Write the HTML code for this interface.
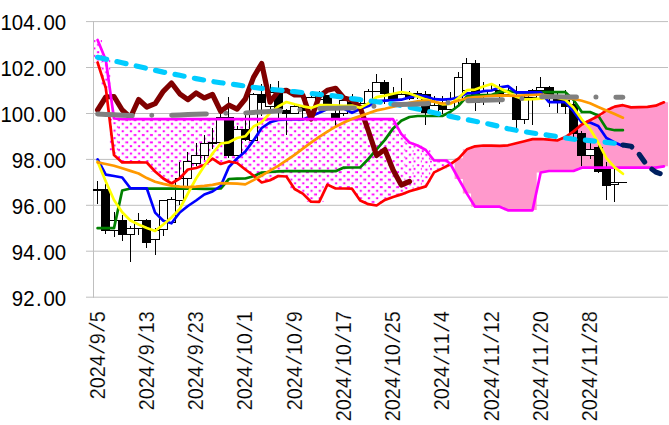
<!DOCTYPE html><html><head><meta charset="utf-8"><title>chart</title><style>html,body{margin:0;padding:0;background:#fff}svg text{font-family:"Liberation Sans",Arial,sans-serif;font-kerning:none}svg text.xl{stroke:#fff;stroke-width:0.2px;paint-order:fill stroke}</style></head><body><svg width="669" height="425" viewBox="0 0 669 425" style="display:block">
<defs>
<pattern id="dots" patternUnits="userSpaceOnUse" x="-0.35" y="0" width="8.2071" height="7.44"><rect width="9" height="8" fill="#fff"/><rect x="2.6" y="0.15" width="2.9" height="1.9" fill="#ff00ff"/><rect x="-1.1" y="3.87" width="2.2" height="1.9" fill="#ff00ff"/><rect x="7.11" y="3.87" width="2.2" height="1.9" fill="#ff00ff"/></pattern>
</defs>
<rect width="669" height="425" fill="#fff"/>
<line x1="86" x2="668" y1="21.6" y2="21.6" stroke="#bfbfbf" stroke-width="1"/>
<line x1="86" x2="668" y1="67.5" y2="67.5" stroke="#bfbfbf" stroke-width="1"/>
<line x1="86" x2="668" y1="113.5" y2="113.5" stroke="#bfbfbf" stroke-width="1"/>
<line x1="86" x2="668" y1="159.4" y2="159.4" stroke="#bfbfbf" stroke-width="1"/>
<line x1="86" x2="668" y1="205.3" y2="205.3" stroke="#bfbfbf" stroke-width="1"/>
<line x1="86" x2="668" y1="251.2" y2="251.2" stroke="#bfbfbf" stroke-width="1"/>
<line x1="86" x2="668" y1="297.2" y2="297.2" stroke="#bfbfbf" stroke-width="1"/>
<line x1="93.5" x2="93.5" y1="21" y2="297.5" stroke="#bfbfbf" stroke-width="1"/>
<rect transform="translate(0,-79.09)" x="93.50" y="119.1" width="8.51" height="22.5" fill="url(#dots)"/>
<rect transform="translate(0,-59.02)" x="101.71" y="119.1" width="8.51" height="28.0" fill="url(#dots)"/>
<rect transform="translate(0,-0.60)" x="109.91" y="119.1" width="8.51" height="36.5" fill="url(#dots)"/>
<rect transform="translate(0,0.00)" x="118.12" y="119.1" width="8.51" height="43.3" fill="url(#dots)"/>
<rect transform="translate(0,0.00)" x="126.33" y="119.1" width="8.51" height="43.3" fill="url(#dots)"/>
<rect transform="translate(0,0.00)" x="134.54" y="119.1" width="8.51" height="43.3" fill="url(#dots)"/>
<rect transform="translate(0,0.00)" x="142.74" y="119.1" width="8.51" height="43.4" fill="url(#dots)"/>
<rect transform="translate(0,0.00)" x="150.95" y="119.1" width="8.51" height="52.4" fill="url(#dots)"/>
<rect transform="translate(0,0.00)" x="159.16" y="119.1" width="8.51" height="59.4" fill="url(#dots)"/>
<rect transform="translate(0,0.00)" x="167.36" y="119.1" width="8.51" height="64.4" fill="url(#dots)"/>
<rect transform="translate(0,0.00)" x="175.57" y="119.1" width="8.51" height="59.4" fill="url(#dots)"/>
<rect transform="translate(0,0.00)" x="183.78" y="119.1" width="8.51" height="50.4" fill="url(#dots)"/>
<rect transform="translate(0,0.00)" x="191.99" y="119.1" width="8.51" height="48.9" fill="url(#dots)"/>
<rect transform="translate(0,0.00)" x="200.19" y="119.1" width="8.51" height="45.9" fill="url(#dots)"/>
<rect transform="translate(0,0.00)" x="208.40" y="119.1" width="8.51" height="39.6" fill="url(#dots)"/>
<rect transform="translate(0,0.00)" x="216.61" y="119.1" width="8.51" height="44.9" fill="url(#dots)"/>
<rect transform="translate(0,0.00)" x="224.81" y="119.1" width="8.51" height="42.4" fill="url(#dots)"/>
<rect transform="translate(0,0.00)" x="233.02" y="119.1" width="8.51" height="43.9" fill="url(#dots)"/>
<rect transform="translate(0,0.00)" x="241.23" y="119.1" width="8.51" height="50.4" fill="url(#dots)"/>
<rect transform="translate(0,0.00)" x="249.44" y="119.1" width="8.51" height="56.4" fill="url(#dots)"/>
<rect transform="translate(0,0.00)" x="257.64" y="119.1" width="8.51" height="63.4" fill="url(#dots)"/>
<rect transform="translate(0,0.00)" x="265.85" y="119.1" width="8.51" height="61.2" fill="url(#dots)"/>
<rect transform="translate(0,0.00)" x="274.06" y="119.1" width="8.51" height="56.9" fill="url(#dots)"/>
<rect transform="translate(0,0.00)" x="282.26" y="119.1" width="8.51" height="57.4" fill="url(#dots)"/>
<rect transform="translate(0,0.00)" x="290.47" y="119.1" width="8.51" height="69.9" fill="url(#dots)"/>
<rect transform="translate(0,0.00)" x="298.68" y="119.1" width="8.51" height="74.5" fill="url(#dots)"/>
<rect transform="translate(0,0.00)" x="306.89" y="119.1" width="8.51" height="82.6" fill="url(#dots)"/>
<rect transform="translate(0,0.00)" x="315.09" y="119.1" width="8.51" height="82.7" fill="url(#dots)"/>
<rect transform="translate(0,0.00)" x="323.30" y="119.1" width="8.51" height="65.5" fill="url(#dots)"/>
<rect transform="translate(0,0.00)" x="331.51" y="119.1" width="8.51" height="69.4" fill="url(#dots)"/>
<rect transform="translate(0,0.00)" x="339.71" y="119.1" width="8.51" height="69.4" fill="url(#dots)"/>
<rect transform="translate(0,0.00)" x="347.92" y="119.1" width="8.51" height="69.6" fill="url(#dots)"/>
<rect transform="translate(0,0.00)" x="356.13" y="119.1" width="8.51" height="81.5" fill="url(#dots)"/>
<rect transform="translate(0,0.00)" x="364.34" y="119.1" width="8.51" height="85.1" fill="url(#dots)"/>
<rect transform="translate(0,0.00)" x="372.54" y="119.1" width="8.51" height="86.4" fill="url(#dots)"/>
<rect transform="translate(0,0.00)" x="380.75" y="119.1" width="8.51" height="80.8" fill="url(#dots)"/>
<rect transform="translate(0,0.11)" x="388.96" y="119.1" width="8.51" height="77.7" fill="url(#dots)"/>
<rect transform="translate(0,14.87)" x="397.16" y="119.1" width="8.51" height="60.5" fill="url(#dots)"/>
<rect transform="translate(0,23.43)" x="405.37" y="119.1" width="8.51" height="48.7" fill="url(#dots)"/>
<rect transform="translate(0,26.45)" x="413.58" y="119.1" width="8.51" height="43.4" fill="url(#dots)"/>
<rect transform="translate(0,31.01)" x="421.79" y="119.1" width="8.51" height="36.3" fill="url(#dots)"/>
<rect transform="translate(0,41.40)" x="429.99" y="119.1" width="8.51" height="11.9" fill="url(#dots)"/>
<rect transform="translate(0,41.40)" x="438.20" y="119.1" width="8.51" height="7.9" fill="url(#dots)"/>
<polygon points="446.41,164.2 454.61,164.2 454.61,158.3 462.82,158.3 462.82,149.3 471.03,149.3 471.03,146.3 479.24,146.3 479.24,145.5 487.44,145.5 487.44,145.7 495.65,145.7 495.65,145.9 503.86,145.9 503.86,145.3 512.06,145.3 512.06,143.2 520.27,143.2 520.27,141.2 528.48,141.2 528.48,139.1 536.69,139.1 536.69,139.0 544.89,139.0 544.89,139.7 553.10,139.7 553.10,140.5 561.31,140.5 561.31,137.0 569.51,137.0 569.51,131.4 577.72,131.4 577.72,124.5 585.93,124.5 585.93,120.3 594.14,120.3 594.14,116.0 602.34,116.0 602.34,110.5 610.55,110.5 610.55,106.6 618.76,106.6 618.76,105.2 626.96,105.2 626.96,107.4 635.17,107.4 635.17,107.1 643.38,107.1 643.38,106.8 651.59,106.8 651.59,105.7 659.79,105.7 659.79,102.3 668.00,102.3 668.00,166.3 659.79,166.3 659.79,167.7 651.59,167.7 651.59,167.7 643.38,167.7 643.38,167.7 635.17,167.7 635.17,167.7 626.96,167.7 626.96,167.7 618.76,167.7 618.76,167.7 610.55,167.7 610.55,167.7 602.34,167.7 602.34,167.7 594.14,167.7 594.14,167.7 585.93,167.7 585.93,167.7 577.72,167.7 577.72,171.0 569.51,171.0 569.51,171.0 561.31,171.0 561.31,171.0 553.10,171.0 553.10,171.0 544.89,171.0 544.89,172.5 536.69,172.5 536.69,209.9 528.48,209.9 528.48,210.3 520.27,210.3 520.27,210.3 512.06,210.3 512.06,210.3 503.86,210.3 503.86,206.7 495.65,206.7 495.65,206.7 487.44,206.7 487.44,206.7 479.24,206.7 479.24,206.7 471.03,206.7 471.03,193.6 462.82,193.6 462.82,179.0 454.61,179.0 454.61,164.5 446.41,164.5" fill="#ff99cc"/>
<line x1="93.5" x2="93.5" y1="21" y2="297.5" stroke="#bfbfbf" stroke-width="1"/>
<g stroke="#000" stroke-width="1" shape-rendering="crispEdges">
<line x1="97.6" x2="97.6" y1="181.0" y2="203.8"/>
<line x1="105.8" x2="105.8" y1="184.0" y2="233.8"/>
<line x1="114.0" x2="114.0" y1="212.0" y2="236.8"/>
<line x1="122.2" x2="122.2" y1="215.0" y2="240.7"/>
<line x1="130.4" x2="130.4" y1="226.2" y2="261.7"/>
<line x1="138.6" x2="138.6" y1="213.2" y2="234.5"/>
<line x1="146.8" x2="146.8" y1="218.8" y2="247.8"/>
<line x1="155.1" x2="155.1" y1="228.0" y2="254.6"/>
<line x1="163.3" x2="163.3" y1="199.5" y2="235.7"/>
<line x1="171.5" x2="171.5" y1="197.0" y2="223.0"/>
<line x1="179.7" x2="179.7" y1="162.0" y2="205.4"/>
<line x1="187.9" x2="187.9" y1="152.3" y2="187.0"/>
<line x1="196.1" x2="196.1" y1="143.2" y2="166.0"/>
<line x1="204.3" x2="204.3" y1="135.3" y2="159.5"/>
<line x1="212.5" x2="212.5" y1="128.3" y2="148.7"/>
<line x1="220.7" x2="220.7" y1="114.3" y2="144.0"/>
<line x1="228.9" x2="228.9" y1="97.3" y2="158.2"/>
<line x1="237.1" x2="237.1" y1="125.9" y2="156.0"/>
<line x1="245.3" x2="245.3" y1="113.0" y2="141.0"/>
<line x1="253.5" x2="253.5" y1="92.9" y2="141.0"/>
<line x1="261.7" x2="261.7" y1="84.2" y2="116.0"/>
<line x1="270.0" x2="270.0" y1="84.2" y2="110.0"/>
<line x1="278.2" x2="278.2" y1="81.3" y2="117.7"/>
<line x1="286.4" x2="286.4" y1="108.8" y2="134.5"/>
<line x1="294.6" x2="294.6" y1="105.0" y2="114.0"/>
<line x1="302.8" x2="302.8" y1="105.0" y2="118.0"/>
<line x1="311.0" x2="311.0" y1="96.0" y2="113.0"/>
<line x1="319.2" x2="319.2" y1="90.5" y2="100.0"/>
<line x1="327.4" x2="327.4" y1="94.5" y2="105.0"/>
<line x1="335.6" x2="335.6" y1="110.0" y2="125.5"/>
<line x1="343.8" x2="343.8" y1="99.0" y2="116.0"/>
<line x1="352.0" x2="352.0" y1="94.1" y2="108.0"/>
<line x1="360.2" x2="360.2" y1="100.0" y2="110.0"/>
<line x1="368.4" x2="368.4" y1="89.0" y2="104.0"/>
<line x1="376.6" x2="376.6" y1="74.1" y2="92.0"/>
<line x1="384.9" x2="384.9" y1="80.3" y2="103.7"/>
<line x1="393.1" x2="393.1" y1="87.2" y2="101.0"/>
<line x1="401.3" x2="401.3" y1="78.3" y2="101.0"/>
<line x1="409.5" x2="409.5" y1="91.3" y2="100.0"/>
<line x1="417.7" x2="417.7" y1="91.2" y2="99.0"/>
<line x1="425.9" x2="425.9" y1="91.0" y2="124.6"/>
<line x1="434.1" x2="434.1" y1="96.3" y2="113.0"/>
<line x1="442.3" x2="442.3" y1="96.3" y2="113.9"/>
<line x1="450.5" x2="450.5" y1="92.3" y2="110.0"/>
<line x1="458.7" x2="458.7" y1="72.1" y2="107.0"/>
<line x1="466.9" x2="466.9" y1="58.1" y2="91.0"/>
<line x1="475.1" x2="475.1" y1="60.1" y2="110.7"/>
<line x1="483.3" x2="483.3" y1="81.9" y2="104.5"/>
<line x1="491.5" x2="491.5" y1="83.8" y2="96.0"/>
<line x1="499.8" x2="499.8" y1="84.0" y2="103.9"/>
<line x1="508.0" x2="508.0" y1="85.0" y2="96.0"/>
<line x1="516.2" x2="516.2" y1="86.0" y2="127.6"/>
<line x1="524.4" x2="524.4" y1="96.0" y2="123.8"/>
<line x1="532.6" x2="532.6" y1="89.0" y2="125.3"/>
<line x1="540.8" x2="540.8" y1="77.2" y2="91.0"/>
<line x1="549.0" x2="549.0" y1="86.0" y2="106.5"/>
<line x1="557.2" x2="557.2" y1="92.0" y2="113.0"/>
<line x1="565.4" x2="565.4" y1="90.0" y2="113.5"/>
<line x1="573.6" x2="573.6" y1="99.0" y2="137.0"/>
<line x1="581.8" x2="581.8" y1="131.0" y2="165.8"/>
<line x1="590.0" x2="590.0" y1="142.0" y2="158.8"/>
<line x1="598.2" x2="598.2" y1="145.0" y2="173.3"/>
<line x1="606.4" x2="606.4" y1="162.0" y2="199.6"/>
<line x1="614.7" x2="614.7" y1="169.0" y2="201.7"/>
<line x1="622.9" x2="622.9" y1="182.5" y2="182.5"/>
<rect x="93.50" y="189.6" width="8.21" height="1.00" fill="#fff"/>
<rect x="101.71" y="189.5" width="8.21" height="41.20" fill="#000"/>
<rect x="109.91" y="220.3" width="8.21" height="10.40" fill="#fff"/>
<rect x="118.12" y="220.3" width="8.21" height="14.50" fill="#000"/>
<rect x="126.33" y="228.8" width="8.21" height="6.00" fill="#fff"/>
<rect x="134.54" y="220.3" width="8.21" height="8.50" fill="#fff"/>
<rect x="142.74" y="220.3" width="8.21" height="22.40" fill="#000"/>
<rect x="150.95" y="230.0" width="8.21" height="9.50" fill="#fff"/>
<rect x="159.16" y="200.3" width="8.21" height="29.10" fill="#fff"/>
<rect x="167.36" y="199.5" width="8.21" height="23.40" fill="#fff"/>
<rect x="175.57" y="178.5" width="8.21" height="21.60" fill="#fff"/>
<rect x="183.78" y="161.6" width="8.21" height="16.80" fill="#fff"/>
<rect x="191.99" y="155.7" width="8.21" height="7.60" fill="#fff"/>
<rect x="200.19" y="143.4" width="8.21" height="11.70" fill="#fff"/>
<rect x="208.40" y="142.2" width="8.21" height="1.00" fill="#fff"/>
<rect x="216.61" y="117.5" width="8.21" height="25.25" fill="#fff"/>
<rect x="224.81" y="117.7" width="8.21" height="37.90" fill="#000"/>
<rect x="233.02" y="129.9" width="8.21" height="25.10" fill="#fff"/>
<rect x="241.23" y="129.8" width="8.21" height="10.10" fill="#000"/>
<rect x="249.44" y="94.3" width="8.21" height="45.90" fill="#fff"/>
<rect x="257.64" y="94.3" width="8.21" height="8.10" fill="#000"/>
<rect x="265.85" y="92.0" width="8.21" height="14.00" fill="#fff"/>
<rect x="274.06" y="92.0" width="8.21" height="16.50" fill="#000"/>
<rect x="282.26" y="110.2" width="8.21" height="3.20" fill="#000"/>
<rect x="290.47" y="106.8" width="8.21" height="6.60" fill="#fff"/>
<rect x="298.68" y="107.0" width="8.21" height="3.00" fill="#000"/>
<rect x="306.89" y="97.8" width="8.21" height="14.20" fill="#fff"/>
<rect x="315.09" y="96.5" width="8.21" height="2.50" fill="#fff"/>
<rect x="323.30" y="95.9" width="8.21" height="7.70" fill="#000"/>
<rect x="331.51" y="113.5" width="8.21" height="4.10" fill="#000"/>
<rect x="339.71" y="100.7" width="8.21" height="12.80" fill="#fff"/>
<rect x="347.92" y="102.0" width="8.21" height="3.50" fill="#000"/>
<rect x="356.13" y="103.7" width="8.21" height="1.80" fill="#fff"/>
<rect x="364.34" y="91.3" width="8.21" height="12.40" fill="#fff"/>
<rect x="372.54" y="82.6" width="8.21" height="8.60" fill="#fff"/>
<rect x="380.75" y="82.4" width="8.21" height="11.30" fill="#000"/>
<rect x="388.96" y="93.7" width="8.21" height="5.90" fill="#000"/>
<rect x="397.16" y="94.0" width="8.21" height="5.50" fill="#fff"/>
<rect x="405.37" y="94.0" width="8.21" height="4.00" fill="#000"/>
<rect x="413.58" y="93.5" width="8.21" height="1.00" fill="#000"/>
<rect x="421.79" y="94.1" width="8.21" height="17.90" fill="#000"/>
<rect x="429.99" y="105.2" width="8.21" height="6.80" fill="#fff"/>
<rect x="438.20" y="104.5" width="8.21" height="5.00" fill="#000"/>
<rect x="446.41" y="98.5" width="8.21" height="11.00" fill="#fff"/>
<rect x="454.61" y="77.5" width="8.21" height="21.50" fill="#fff"/>
<rect x="462.82" y="63.7" width="8.21" height="26.30" fill="#fff"/>
<rect x="471.03" y="63.7" width="8.21" height="38.50" fill="#000"/>
<rect x="479.24" y="91.5" width="8.21" height="3.60" fill="#fff"/>
<rect x="487.44" y="90.3" width="8.21" height="4.70" fill="#fff"/>
<rect x="495.65" y="90.3" width="8.21" height="4.70" fill="#000"/>
<rect x="503.86" y="94.5" width="8.21" height="1.00" fill="#fff"/>
<rect x="512.06" y="95.0" width="8.21" height="24.40" fill="#000"/>
<rect x="520.27" y="97.0" width="8.21" height="22.40" fill="#fff"/>
<rect x="528.48" y="90.2" width="8.21" height="6.80" fill="#fff"/>
<rect x="536.69" y="87.4" width="8.21" height="2.90" fill="#fff"/>
<rect x="544.89" y="87.4" width="8.21" height="10.60" fill="#000"/>
<rect x="553.10" y="98.0" width="8.21" height="2.40" fill="#000"/>
<rect x="561.31" y="100.7" width="8.21" height="5.70" fill="#000"/>
<rect x="569.51" y="104.0" width="8.21" height="29.90" fill="#000"/>
<rect x="577.72" y="133.2" width="8.21" height="22.00" fill="#000"/>
<rect x="585.93" y="149.4" width="8.21" height="6.10" fill="#fff"/>
<rect x="594.14" y="147.0" width="8.21" height="24.60" fill="#000"/>
<rect x="602.34" y="169.6" width="8.21" height="16.00" fill="#000"/>
<rect x="610.55" y="182.5" width="8.21" height="2.40" fill="#fff"/>
<rect x="618.76" y="182.5" width="8.21" height="0.01" fill="#fff"/>
</g>
<polyline points="97.6,228.2 105.8,228.2 114.0,228.1 122.2,190.5 130.4,188.5 138.6,188.5 146.8,188.6 155.1,188.6 163.3,188.6 171.5,188.7 179.7,188.7 187.9,188.7 196.1,188.7 204.3,188.8 212.5,188.8 220.7,188.5 228.9,179.0 237.1,178.7 245.3,178.5 253.5,176.3 261.7,172.6 270.0,172.0 278.2,171.4 286.4,171.2 294.6,171.2 302.8,171.2 311.0,171.2 319.2,171.2 327.4,171.2 335.6,171.2 343.8,167.6 352.0,167.5 360.2,167.4 368.4,159.0 376.6,149.4 384.9,139.9 393.1,128.4 401.3,120.7 409.5,117.0 417.7,116.0 425.9,116.0 434.1,116.0 442.3,116.0 450.5,111.8 458.7,105.5 466.9,96.3 475.1,95.4 483.3,95.2 491.5,95.1 499.8,91.7 508.0,91.2 516.2,92.3 524.4,92.3 532.6,92.3 540.8,92.2 549.0,92.2 557.2,92.2 565.4,92.2 573.6,99.9 581.8,112.0 590.0,112.0 598.2,115.6 606.4,128.5 614.7,130.2 622.9,130.2" fill="none" stroke="#008000" stroke-width="2.7" stroke-linejoin="round" stroke-linecap="round" />
<polyline points="97.6,159.5 105.8,174.7 114.0,176.0 122.2,177.5 130.4,188.3 138.6,188.3 146.8,188.4 155.1,212.6 163.3,220.8 171.5,223.3 179.7,212.5 187.9,206.0 196.1,200.5 204.3,194.5 212.5,191.5 220.7,186.0 228.9,167.0 237.1,158.5 245.3,151.5 253.5,140.4 261.7,128.0 270.0,122.3 278.2,120.0 286.4,119.5 294.6,119.5 302.8,119.5 311.0,116.3 319.2,112.7 327.4,109.0 335.6,108.5 343.8,108.5 352.0,112.8 360.2,109.0 368.4,106.1 376.6,101.4 384.9,100.7 393.1,100.2 401.3,99.7 409.5,97.4 417.7,95.3 425.9,96.4 434.1,99.2 442.3,99.6 450.5,99.2 458.7,97.2 466.9,93.4 475.1,93.0 483.3,91.2 491.5,90.5 499.8,87.3 508.0,86.2 516.2,92.3 524.4,92.3 532.6,92.3 540.8,92.3 549.0,102.1 557.2,102.1 565.4,102.0 573.6,111.4 581.8,122.5 590.0,122.5 598.2,125.9 606.4,138.0 614.7,142.4 622.9,146.0" fill="none" stroke="#0000ff" stroke-width="2.7" stroke-linejoin="round" stroke-linecap="round" />
<polyline points="97.6,110.0 105.8,97.0 114.0,96.5 122.2,110.0 130.4,117.5 138.6,99.5 146.8,107.0 155.1,103.7 163.3,91.3 171.5,83.0 179.7,93.8 187.9,99.6 196.1,93.0 204.3,98.0 212.5,94.5 220.7,111.4 228.9,105.2 237.1,109.1 245.3,99.0 253.5,77.3 261.7,63.5 270.0,102.2 278.2,91.2 286.4,90.3 294.6,95.0 302.8,95.0 311.0,119.0 319.2,96.5 327.4,90.2 335.6,88.3 343.8,98.0 352.0,100.0 360.2,107.5 368.4,131.0 376.6,155.5 384.9,149.5 393.1,170.0 401.3,185.0 409.5,181.5" fill="none" stroke="#800000" stroke-width="5.2" stroke-linejoin="round" stroke-linecap="round" />
<polyline points="97.6,62.5 105.8,88.1 114.0,155.0 122.2,162.4 130.4,162.4 138.6,162.4 146.8,162.5 155.1,171.5 163.3,178.5 171.5,183.5 179.7,178.5 187.9,169.5 196.1,168.0 204.3,165.0 212.5,158.7 220.7,164.0 228.9,161.5 237.1,163.0 245.3,169.5 253.5,175.5 261.7,182.5 270.0,180.3 278.2,176.0 286.4,176.5 294.6,189.0 302.8,193.6 311.0,201.7 319.2,201.8 327.4,184.6 335.6,188.5 343.8,188.5 352.0,188.7 360.2,200.6 368.4,204.2 376.6,205.5 384.9,199.9 393.1,197.0 401.3,194.4 409.5,191.3 417.7,188.9 425.9,186.4 434.1,172.4 442.3,168.4 450.5,164.2 458.7,158.3 466.9,149.3 475.1,146.3 483.3,145.5 491.5,145.7 499.8,145.9 508.0,145.3 516.2,143.2 524.4,141.2 532.6,139.1 540.8,139.0 549.0,139.7 557.2,140.5 565.4,137.0 573.6,131.4 581.8,124.5 590.0,120.3 598.2,116.0 606.4,110.5 614.7,106.6 622.9,105.2 631.1,107.4 639.3,107.1 647.5,106.8 655.7,105.7 663.9,102.3" fill="none" stroke="#ff0000" stroke-width="2.7" stroke-linejoin="round" stroke-linecap="round" />
<polyline points="97.6,40.0 105.8,60.0 114.0,118.5 122.2,119.1 393.0,119.1 401.2,133.9 409.4,142.5 417.6,145.5 425.8,150.0 434.1,160.5 446.6,160.5 450.9,164.9 458.7,179.0 466.9,193.6 475.1,206.7 499.7,206.7 507.9,210.3 532.5,210.3 540.7,172.5 548.9,171.0 573.5,171.0 581.7,167.7 655.7,167.7 663.9,166.3" fill="none" stroke="#ff00ff" stroke-width="2.7" stroke-linejoin="round" stroke-linecap="round" />
<polyline points="97.6,161.7 105.8,181.5 114.0,200.0 122.2,212.3 130.4,220.5 138.6,224.5 146.8,228.0 155.1,231.0 163.3,224.5 171.5,217.5 179.7,209.0 187.9,193.5 196.1,178.5 204.3,166.0 212.5,153.5 220.7,143.5 228.9,142.3 237.1,138.0 245.3,136.3 253.5,126.5 261.7,122.2 270.0,113.0 278.2,106.5 286.4,102.0 294.6,104.3 302.8,106.3 311.0,107.9 319.2,105.0 327.4,105.0 335.6,105.4 343.8,105.9 352.0,105.6 360.2,107.7 368.4,103.4 376.6,97.1 384.9,95.6 393.1,93.8 401.3,92.0 409.5,93.4 417.7,96.4 425.9,99.4 434.1,101.8 442.3,104.3 450.5,104.0 458.7,97.7 466.9,90.2 475.1,89.6 483.3,86.5 491.5,84.0 499.8,88.2 508.0,92.3 516.2,96.8 524.4,99.4 532.6,99.2 540.8,98.7 549.0,97.0 557.2,97.6 565.4,99.7 573.6,107.7 581.8,119.6 590.0,128.7 598.2,142.5 606.4,158.2 614.7,167.4 622.9,173.8" fill="none" stroke="#ffff00" stroke-width="2.7" stroke-linejoin="round" stroke-linecap="round" />
<polyline points="97.6,162.4 105.8,164.0 114.0,165.7 122.2,168.3 130.4,170.9 138.6,173.5 146.8,178.1 155.1,181.8 163.3,183.9 171.5,185.6 179.7,186.6 187.9,187.2 196.1,186.6 204.3,185.8 212.5,184.8 220.7,183.2 228.9,183.4 237.1,183.7 245.3,184.4 253.5,180.1 261.7,175.5 270.0,170.7 278.2,165.8 286.4,160.4 294.6,154.8 302.8,148.7 311.0,142.6 319.2,136.8 327.4,131.6 335.6,126.7 343.8,122.5 352.0,118.9 360.2,116.1 368.4,113.2 376.6,110.4 384.9,108.7 393.1,106.8 401.3,104.8 409.5,102.8 417.7,101.4 425.9,100.7 434.1,101.7 442.3,103.5 450.5,103.0 458.7,100.5 466.9,98.2 475.1,97.2 483.3,96.5 491.5,95.9 499.8,95.4 508.0,95.7 516.2,95.9 524.4,95.4 532.6,95.0 540.8,94.5 549.0,95.6 557.2,96.7 565.4,97.8 573.6,98.9 581.8,100.8 590.0,103.2 598.2,106.9 606.4,110.5 614.7,114.1 622.9,117.7" fill="none" stroke="#ff9900" stroke-width="2.7" stroke-linejoin="round" stroke-linecap="round" />
<polyline points="97.6,57.3 105.8,59.1 114.0,60.9 122.2,62.8 130.4,64.6 138.6,66.5 146.8,68.4 155.1,70.3 163.3,72.1 171.5,73.7 179.7,75.3 187.9,77.0 196.1,78.6 204.3,80.1 212.5,81.5 220.7,82.7 228.9,83.8 237.1,84.9 245.3,86.1 253.5,87.3 261.7,88.3 270.0,89.2 278.2,90.0 286.4,90.9 294.6,91.7 302.8,92.6 311.0,93.5 319.2,94.4 327.4,95.2 335.6,96.1 343.8,97.3 352.0,98.6 360.2,99.7 368.4,100.7 376.6,101.7 384.9,102.9 393.1,104.0 401.3,105.5 409.5,107.2 417.7,108.9 425.9,110.9 434.1,112.8 442.3,114.6 450.5,116.4 458.7,118.1 466.9,119.6 475.1,121.2 483.3,122.9 491.5,124.6 499.8,126.6 508.0,128.7 516.2,130.3 524.4,131.7 532.6,133.0 540.8,134.2 549.0,135.3 557.2,136.6 565.4,138.0 573.6,139.2 581.8,139.9 590.0,140.6 598.2,141.4 606.4,142.3 614.7,143.3 622.9,144.5" fill="none" stroke="#00ccff" stroke-width="5.2" stroke-linejoin="round" stroke-linecap="round" stroke-dasharray="9.3 10.51"/>
<polyline points="97.6,114.0 105.8,114.4 114.0,114.8 122.2,115.2 130.4,115.6 138.6,115.6 146.8,115.3 155.1,115.2 163.3,115.2 171.5,115.2 179.7,114.9 187.9,114.6 196.1,114.3 204.3,114.0 212.5,113.7 220.7,113.4 228.9,113.3 237.1,113.1 245.3,112.9 253.5,112.4 261.7,111.9 270.0,111.4 278.2,110.8 286.4,110.4 294.6,110.0 302.8,109.5 311.0,108.9 319.2,108.4 327.4,108.3 335.6,108.2 343.8,108.1 352.0,108.0 360.2,107.6 368.4,106.8 376.6,106.0 384.9,105.3 393.1,104.7 401.3,104.5 409.5,104.2 417.7,104.0 425.9,103.7 434.1,103.4 442.3,103.0 450.5,102.5 458.7,101.6 466.9,100.7 475.1,100.5 483.3,100.3 491.5,100.0 499.8,99.8 508.0,99.4 516.2,98.9 524.4,98.4 532.6,97.6 540.8,96.8 549.0,96.8 557.2,96.8 565.4,96.9 573.6,96.9 581.8,96.9 590.0,96.9 598.2,96.9 606.4,97.0 614.7,97.2 622.9,97.3" fill="none" stroke="#808080" stroke-width="5" stroke-linejoin="round" stroke-linecap="round" stroke-dasharray="34.7 19.5 0.01 19.92"/>
<polyline points="622.9,145.0 631.1,146.2 639.3,154.5 647.5,166.0 655.7,172.0 663.9,175.0" fill="none" stroke="#002060" stroke-width="5.2" stroke-linejoin="round" stroke-linecap="round" stroke-dasharray="9.3 10.51"/>
<text transform="translate(66.1,30.15) scale(0.896,1)" text-anchor="end" font-size="22.8" fill="#000">104<tspan dx="1.8">.</tspan><tspan dx="1.8">00</tspan></text>
<text transform="translate(66.1,76.08) scale(0.896,1)" text-anchor="end" font-size="22.8" fill="#000">102<tspan dx="1.8">.</tspan><tspan dx="1.8">00</tspan></text>
<text transform="translate(66.1,122.01) scale(0.896,1)" text-anchor="end" font-size="22.8" fill="#000">100<tspan dx="1.8">.</tspan><tspan dx="1.8">00</tspan></text>
<text transform="translate(66.1,167.94) scale(0.896,1)" text-anchor="end" font-size="22.8" fill="#000">98<tspan dx="1.8">.</tspan><tspan dx="1.8">00</tspan></text>
<text transform="translate(66.1,213.87) scale(0.896,1)" text-anchor="end" font-size="22.8" fill="#000">96<tspan dx="1.8">.</tspan><tspan dx="1.8">00</tspan></text>
<text transform="translate(66.1,259.80) scale(0.896,1)" text-anchor="end" font-size="22.8" fill="#000">94<tspan dx="1.8">.</tspan><tspan dx="1.8">00</tspan></text>
<text transform="translate(66.1,305.73) scale(0.896,1)" text-anchor="end" font-size="22.8" fill="#000">92<tspan dx="1.8">.</tspan><tspan dx="1.8">00</tspan></text>
<text class="xl" transform="translate(104.60,311.3) rotate(-90) scale(0.8675,1)" text-anchor="end" font-size="22.8" fill="#000">2024<tspan font-size="24.2" rotate="16.3" dx="1.5" dy="-0.6">/</tspan><tspan dx="4.46" dy="0.6">9</tspan><tspan font-size="24.2" rotate="16.3" dx="1.5" dy="-0.6">/</tspan><tspan dx="4.46" dy="0.6">5</tspan></text>
<text class="xl" transform="translate(153.85,311.3) rotate(-90) scale(0.8675,1)" text-anchor="end" font-size="22.8" fill="#000">2024<tspan font-size="24.2" rotate="16.3" dx="1.5" dy="-0.6">/</tspan><tspan dx="4.46" dy="0.6">9</tspan><tspan font-size="24.2" rotate="16.3" dx="1.5" dy="-0.6">/</tspan><tspan dx="4.46" dy="0.6">13</tspan></text>
<text class="xl" transform="translate(203.09,311.3) rotate(-90) scale(0.8675,1)" text-anchor="end" font-size="22.8" fill="#000">2024<tspan font-size="24.2" rotate="16.3" dx="1.5" dy="-0.6">/</tspan><tspan dx="4.46" dy="0.6">9</tspan><tspan font-size="24.2" rotate="16.3" dx="1.5" dy="-0.6">/</tspan><tspan dx="4.46" dy="0.6">23</tspan></text>
<text class="xl" transform="translate(252.33,311.3) rotate(-90) scale(0.8675,1)" text-anchor="end" font-size="22.8" fill="#000">2024<tspan font-size="24.2" rotate="16.3" dx="1.5" dy="-0.6">/</tspan><tspan dx="4.46" dy="0.6">10</tspan><tspan font-size="24.2" rotate="16.3" dx="1.5" dy="-0.6">/</tspan><tspan dx="4.46" dy="0.6">1</tspan></text>
<text class="xl" transform="translate(301.58,311.3) rotate(-90) scale(0.8675,1)" text-anchor="end" font-size="22.8" fill="#000">2024<tspan font-size="24.2" rotate="16.3" dx="1.5" dy="-0.6">/</tspan><tspan dx="4.46" dy="0.6">10</tspan><tspan font-size="24.2" rotate="16.3" dx="1.5" dy="-0.6">/</tspan><tspan dx="4.46" dy="0.6">9</tspan></text>
<text class="xl" transform="translate(350.82,311.3) rotate(-90) scale(0.8675,1)" text-anchor="end" font-size="22.8" fill="#000">2024<tspan font-size="24.2" rotate="16.3" dx="1.5" dy="-0.6">/</tspan><tspan dx="4.46" dy="0.6">10</tspan><tspan font-size="24.2" rotate="16.3" dx="1.5" dy="-0.6">/</tspan><tspan dx="4.46" dy="0.6">17</tspan></text>
<text class="xl" transform="translate(400.06,311.3) rotate(-90) scale(0.8675,1)" text-anchor="end" font-size="22.8" fill="#000">2024<tspan font-size="24.2" rotate="16.3" dx="1.5" dy="-0.6">/</tspan><tspan dx="4.46" dy="0.6">10</tspan><tspan font-size="24.2" rotate="16.3" dx="1.5" dy="-0.6">/</tspan><tspan dx="4.46" dy="0.6">25</tspan></text>
<text class="xl" transform="translate(449.30,311.3) rotate(-90) scale(0.8675,1)" text-anchor="end" font-size="22.8" fill="#000">2024<tspan font-size="24.2" rotate="16.3" dx="1.5" dy="-0.6">/</tspan><tspan dx="4.46" dy="0.6">11</tspan><tspan font-size="24.2" rotate="16.3" dx="1.5" dy="-0.6">/</tspan><tspan dx="4.46" dy="0.6">4</tspan></text>
<text class="xl" transform="translate(498.55,311.3) rotate(-90) scale(0.8675,1)" text-anchor="end" font-size="22.8" fill="#000">2024<tspan font-size="24.2" rotate="16.3" dx="1.5" dy="-0.6">/</tspan><tspan dx="4.46" dy="0.6">11</tspan><tspan font-size="24.2" rotate="16.3" dx="1.5" dy="-0.6">/</tspan><tspan dx="4.46" dy="0.6">12</tspan></text>
<text class="xl" transform="translate(547.79,311.3) rotate(-90) scale(0.8675,1)" text-anchor="end" font-size="22.8" fill="#000">2024<tspan font-size="24.2" rotate="16.3" dx="1.5" dy="-0.6">/</tspan><tspan dx="4.46" dy="0.6">11</tspan><tspan font-size="24.2" rotate="16.3" dx="1.5" dy="-0.6">/</tspan><tspan dx="4.46" dy="0.6">20</tspan></text>
<text class="xl" transform="translate(597.03,311.3) rotate(-90) scale(0.8675,1)" text-anchor="end" font-size="22.8" fill="#000">2024<tspan font-size="24.2" rotate="16.3" dx="1.5" dy="-0.6">/</tspan><tspan dx="4.46" dy="0.6">11</tspan><tspan font-size="24.2" rotate="16.3" dx="1.5" dy="-0.6">/</tspan><tspan dx="4.46" dy="0.6">28</tspan></text>
</svg></body></html>
